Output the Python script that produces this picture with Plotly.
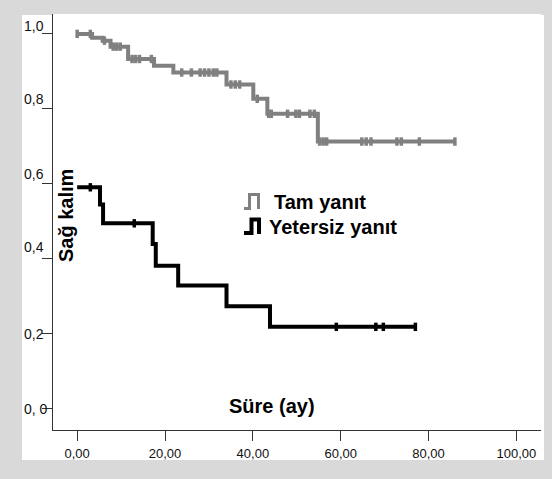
import numpy as np
import plotly.graph_objects as go

# ---------------- data ----------------
# "Tam yanıt" (complete response) Kaplan-Meier steps
tam_time = [0, 3.4, 5.8, 7.6, 11.6, 17.5, 21.9, 34.0, 40.1, 43.3, 54.8, 86.0]
tam_surv = [1.0, 0.990, 0.982, 0.966, 0.933, 0.915, 0.897, 0.865, 0.827, 0.787, 0.713, 0.713]
tam_censor = [0, 3.0, 6.2, 8.2, 9.0, 9.8, 12.5, 13.3, 14.2, 16.9, 23.8, 26.0, 28.0, 29.0,
              30.0, 31.0, 31.8, 35.0, 36.0, 37.0, 41.0, 43.6, 44.2, 47.9, 49.8, 50.6,
              53.0, 54.0, 55.2, 56.0, 56.8, 64.8, 65.8, 66.9, 72.8, 73.8, 77.9, 86.0]

# "Yetersiz yanıt" (insufficient response)
yet_time = [0, 5.2, 5.9, 17.2, 17.9, 23.0, 34.0, 43.9, 77.0]
yet_surv = [0.591, 0.545, 0.495, 0.440, 0.382, 0.329, 0.274, 0.219, 0.219]
yet_censor = [3.0, 13.0, 59.0, 68.0, 69.7, 77.0]

x_tick_vals = [0, 20, 40, 60, 80, 100]
x_tick_text = ["0,00", "20,00", "40,00", "60,00", "80,00", "100,00"]
y_tick_vals = [0.0, 0.2, 0.4, 0.6, 0.8, 1.0]
y_tick_text = ["0, 0", "0,2", "0,4", "0,6", "0,8", "1,0"]

legend_names = ["Tam yanıt", "Yetersiz yanıt"]
x_title = "Süre (ay)"
y_title = "Sağ kalım"

# ---------------- style ----------------
GRAY = "#808080"
BLACK = "#000000"
W, H = 552, 479
ML, MR, MT, MB = 53, 11, 14, 49
PW, PH = W - ML - MR, H - MT - MB
y_label_shift = [0, 0, 12, 10, 10, 8]
FONT = "Liberation Sans, Arial"


def px_x(px):
    return (px - ML) / PW


def px_y(py):
    return (H - MB - py) / PH


def step_value(times, surv, t):
    idx = np.searchsorted(np.array(times), t, side="right") - 1
    return [surv[i] for i in idx]


fig = go.Figure()

for times, surv, cens, col in [(tam_time, tam_surv, tam_censor, GRAY),
                               (yet_time, yet_surv, yet_censor, BLACK)]:
    fig.add_trace(go.Scatter(x=times, y=surv, mode="lines",
                             line=dict(color=col, width=4, shape="hv"),
                             showlegend=False, hoverinfo="skip"))
    fig.add_trace(go.Scatter(x=cens, y=step_value(times, surv, cens), mode="markers",
                             marker=dict(symbol="line-ns", size=6,
                                         line=dict(color=col, width=3.5)),
                             showlegend=False, hoverinfo="skip"))

annotations = []
for v, t, s in zip(y_tick_vals, y_tick_text, y_label_shift):
    annotations.append(dict(x=px_x(22), xref="paper", y=v, yref="y", text=t,
                            showarrow=False, xanchor="left", yanchor="middle",
                            yshift=s, font=dict(family=FONT, size=14, color="#111111")))

big = dict(family=FONT, size=20, color="black")
annotations.append(dict(x=px_x(271.5), xref="paper", y=px_y(406), yref="paper",
                        text="<b>%s</b>" % x_title, showarrow=False,
                        xanchor="center", yanchor="middle", font=big))
annotations.append(dict(x=px_x(66), xref="paper", y=px_y(216), yref="paper",
                        text="<b>%s</b>" % y_title, showarrow=False, textangle=-90,
                        xanchor="center", yanchor="middle", font=big))
annotations.append(dict(x=px_x(272), xref="paper", y=px_y(202), yref="paper",
                        text="<b>%s</b>" % legend_names[0], showarrow=False,
                        xanchor="left", yanchor="middle", font=big))
annotations.append(dict(x=px_x(267), xref="paper", y=px_y(227), yref="paper",
                        text="<b>%s</b>" % legend_names[1], showarrow=False,
                        xanchor="left", yanchor="middle", font=big))


def icon_path(pts):
    return "M " + " L ".join("%f,%f" % (px_x(a), px_y(b)) for a, b in pts)


shapes = [
    dict(type="rect", xref="paper", yref="paper", x0=px_x(22), x1=px_x(544),
         y0=px_y(460), y1=px_y(15), fillcolor="white", line=dict(width=0), layer="below"),
    dict(type="path", xref="paper", yref="paper",
         path=icon_path([(244, 208.5), (249.5, 208.5), (249.5, 194.5), (258.5, 194.5), (258.5, 209)]),
         line=dict(color=GRAY, width=3)),
    dict(type="path", xref="paper", yref="paper",
         path=icon_path([(244, 233), (251.5, 233), (251.5, 219.5), (259, 219.5), (259, 234)]),
         line=dict(color=BLACK, width=4)),
]

fig.update_layout(
    width=W, height=H, autosize=False,
    margin=dict(l=ML, r=MR, t=MT, b=MB, pad=0),
    paper_bgcolor="#d9d9d9", plot_bgcolor="white",
    showlegend=False,
    annotations=annotations, shapes=shapes,
    font=dict(family=FONT, color="#111111"),
)
fig.update_xaxes(range=[-5.5, 105.6], tickvals=x_tick_vals, ticktext=x_tick_text,
                 ticks="outside", ticklen=10, tickwidth=1, tickcolor="#333",
                 showline=True, linecolor="#333", linewidth=1, showgrid=False,
                 zeroline=False, tickfont=dict(size=13), ticklabelstandoff=1)
fig.update_yaxes(range=[-0.056, 1.053], tickvals=y_tick_vals, showticklabels=False,
                 ticks="outside", ticklen=10, tickwidth=1, tickcolor="#333",
                 showline=True, linecolor="#333", linewidth=1, showgrid=False,
                 zeroline=False)

fig.write_html("out.html", config={"displayModeBar": False},
               post_script="document.body.style.margin='0';document.body.style.overflow='hidden';")
